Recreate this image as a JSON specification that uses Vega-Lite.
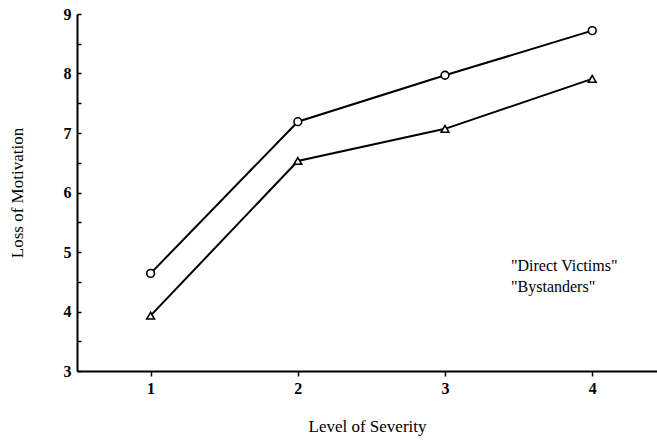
{
  "$schema": "https://vega.github.io/schema/vega-lite/v6.json",
  "width": 580,
  "height": 357,
  "padding": {"left": 77, "top": 14, "right": 0, "bottom": 74},
  "autosize": {"type": "none"},
  "background": "white",
  "config": {
    "view": {"stroke": null},
    "font": "Liberation Serif"
  },
  "data": {
    "values": [
      {"severity": 1, "motivation": 4.64, "group": "Direct Victims"},
      {"severity": 2, "motivation": 7.19, "group": "Direct Victims"},
      {"severity": 3, "motivation": 7.97, "group": "Direct Victims"},
      {"severity": 4, "motivation": 8.72, "group": "Direct Victims"},
      {"severity": 1, "motivation": 3.93, "group": "Bystanders"},
      {"severity": 2, "motivation": 6.53, "group": "Bystanders"},
      {"severity": 3, "motivation": 7.07, "group": "Bystanders"},
      {"severity": 4, "motivation": 7.91, "group": "Bystanders"}
    ]
  },
  "encoding": {
    "x": {
      "field": "severity",
      "type": "quantitative",
      "scale": {"domain": [0.5, 4.44], "nice": false, "zero": false},
      "axis": {
        "title": "Level of Severity",
        "values": [1, 2, 3, 4],
        "format": "d",
        "grid": false,
        "domainColor": "black",
        "domainWidth": 2,
        "tickColor": "black",
        "tickWidth": 1.5,
        "tickSize": 5,
        "labelColor": "black",
        "labelFontWeight": "bold",
        "labelFontSize": 16,
        "labelPadding": 4,
        "titleColor": "black",
        "titleFontWeight": "normal",
        "titleFontSize": 17,
        "titlePadding": 22
      }
    },
    "y": {
      "field": "motivation",
      "type": "quantitative",
      "scale": {"domain": [3, 9], "nice": false, "zero": false},
      "axis": {
        "title": "Loss of Motivation",
        "values": [3, 3.5, 4, 4.5, 5, 5.5, 6, 6.5, 7, 7.5, 8, 8.5, 9],
        "labelExpr": "datum.value % 1 === 0 ? format(datum.value, 'd') : ''",
        "grid": false,
        "domainColor": "black",
        "domainWidth": 2,
        "tickColor": "black",
        "tickWidth": 1.5,
        "tickSize": -4,
        "labelColor": "black",
        "labelFontWeight": "bold",
        "labelFontSize": 16,
        "labelPadding": 10,
        "titleColor": "black",
        "titleFontWeight": "normal",
        "titleFontSize": 17,
        "titlePadding": 37
      }
    }
  },
  "layer": [
    {
      "mark": {"type": "line", "color": "black", "strokeWidth": 2},
      "encoding": {"detail": {"field": "group"}}
    },
    {
      "mark": {"type": "point", "filled": false, "fill": "white", "fillOpacity": 1, "color": "black", "strokeWidth": 1.6, "size": 60},
      "encoding": {
        "shape": {
          "field": "group",
          "type": "nominal",
          "scale": {"domain": ["Direct Victims", "Bystanders"], "range": ["circle", "triangle-up"]},
          "legend": {
            "title": null,
            "orient": "none",
            "legendX": 369,
            "legendY": 244,
            "symbolSize": 64,
            "symbolStrokeColor": "black",
            "symbolStrokeWidth": 1.6,
            "labelOffset": 49,
            "labelFontSize": 16,
            "labelColor": "black",
            "rowPadding": 5,
            "labelExpr": "'\"' + datum.label + '\"'"
          }
        }
      }
    }
  ]
}
